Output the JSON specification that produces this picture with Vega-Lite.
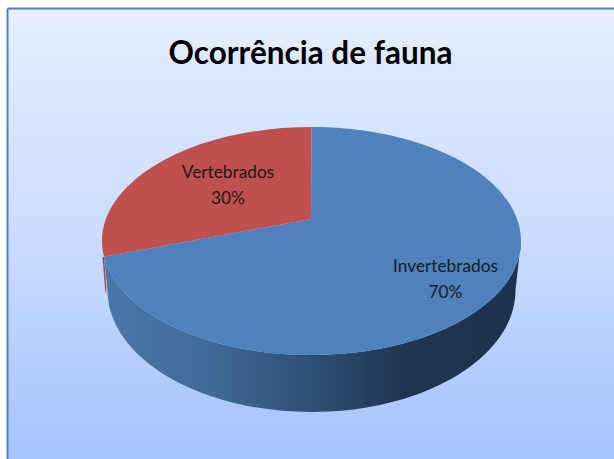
{
"$schema":"https://vega.github.io/schema/vega-lite/v6.json",
"autosize":{"type":"none"},
"padding":{"left":7,"top":8,"right":0,"bottom":0},
"width":607,"height":451,
"background":"#ffffff",
"title":{"text":"Ocorrência de fauna","orient":"top","anchor":"middle","frame":"group","offset":-62,"font":"Lato","fontSize":31.5,"fontWeight":"bold","color":"#000000"},
"view":{"fill":{"gradient":"linear","x1":0,"y1":0,"x2":0,"y2":1,"stops":[{"offset":0,"color":"#e6eeff"},{"offset":0.5,"color":"#cbdcff"},{"offset":1,"color":"#a5c3ff"}]},"stroke":null},
"data":{"values":[
{"category":"Invertebrados","share":70},
{"category":"Vertebrados","share":30}
]},
"transform":[{"calculate":"[datum.category, datum.share + '%']","as":"label"}],
"encoding":{
"x":{"datum":0,"type":"quantitative","scale":{"domain":[-1,1]},"axis":{"orient":"top","domainColor":"#4f81bd","domainWidth":2,"ticks":false,"labels":false,"grid":false,"title":null}},
"y":{"datum":0,"type":"quantitative","scale":{"domain":[-1,1]},"axis":{"orient":"left","domainColor":"#4f81bd","domainWidth":2,"ticks":false,"labels":false,"grid":false,"title":null}}
},
"layer":[
{"transform":[{"filter":"datum.category === 'Vertebrados'"}],
 "mark":{"type":"point","filled":true,"opacity":1,"size":4,"strokeWidth":0,"fill":"#a9403d","shape":"M-206.5,23.2 L-208,24 L-205,60 L-204,56.5 Z"}},
{"transform":[{"filter":"datum.category === 'Invertebrados'"}],
 "mark":{"type":"point","filled":true,"opacity":1,"size":4,"strokeWidth":0,
 "fill":{"gradient":"linear","x1":0,"y1":0,"x2":1,"y2":0,"stops":[{"offset":0,"color":"#4a77aa"},{"offset":0.25,"color":"#406a99"},{"offset":0.5,"color":"#2e4f75"},{"offset":0.72,"color":"#1f3550"},{"offset":1,"color":"#1d324e"}]},
 "shape":"M210.5,7.5 L205,56.5 A204,122 0 0 1 -203,56.5 L-206.5,23.2 A209.5,114 0 0 0 210.5,7.5 Z"}},
{"mark":{"type":"point","filled":true,"opacity":1,"size":4,"strokeWidth":0},
 "encoding":{
  "shape":{"field":"category","type":"nominal","legend":null,"scale":{"domain":["Invertebrados","Vertebrados"],"range":["M0.5,-14.5 L1,-106.5 A209.5,114 0 1 1 -206.5,23.2 Z","M0.5,-14.5 L-206.5,23.2 A209.5,114 0 0 1 1,-106.5 Z"]}},
  "color":{"field":"category","type":"nominal","legend":null,"scale":{"domain":["Invertebrados","Vertebrados"],"range":["#4f81bd","#c0504d"]}}
 }},
{"transform":[{"filter":"datum.category === 'Invertebrados'"}],
 "mark":{"type":"text","font":"Lato","fontSize":17.3,"lineHeight":26,"color":"#1a1a1a","align":"center","baseline":"middle"},
 "encoding":{"text":{"field":"label"},"x":{"datum":0.4448,"type":"quantitative"},"y":{"datum":-0.1486,"type":"quantitative"}}},
{"transform":[{"filter":"datum.category === 'Vertebrados'"}],
 "mark":{"type":"text","font":"Lato","fontSize":17.3,"lineHeight":26,"color":"#1a1a1a","align":"center","baseline":"middle"},
 "encoding":{"text":{"field":"label"},"x":{"datum":-0.2718,"type":"quantitative"},"y":{"datum":0.2682,"type":"quantitative"}}}
]
}
